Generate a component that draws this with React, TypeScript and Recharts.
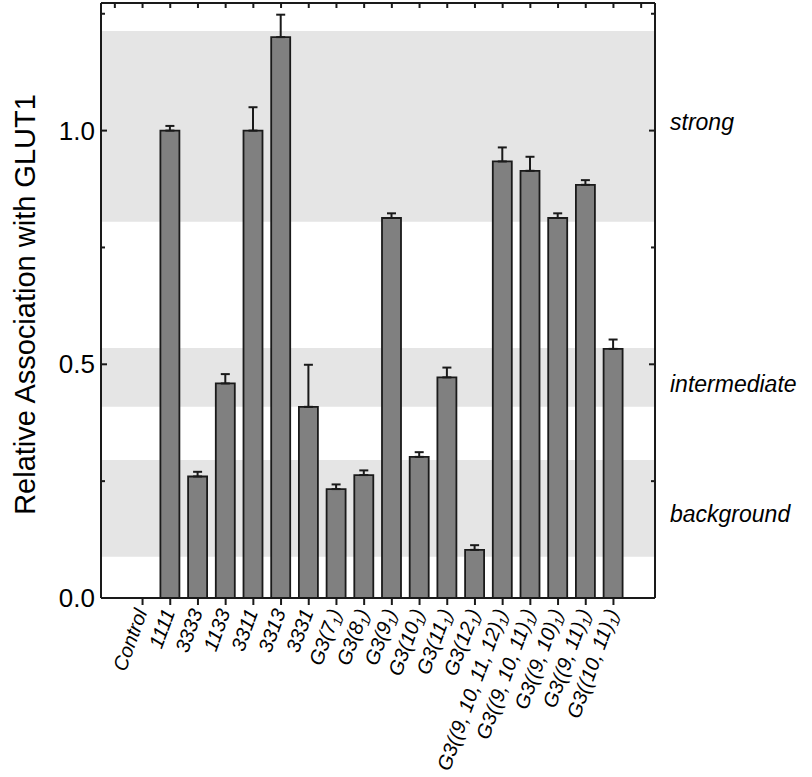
import React from "react";
import { BarChart, Bar, XAxis, YAxis, ErrorBar, ReferenceArea, Label } from "recharts";

const CATEGORIES = [
  "Control", "1111", "3333", "1133", "3311", "3313", "3331",
  "G3(7₁)", "G3(8₁)", "G3(9₁)", "G3(10₁)", "G3(11₁)", "G3(12₁)",
  "G3((9, 10, 11, 12)₁)", "G3((9, 10, 11)₁)", "G3((9, 10)₁)", "G3((9, 11)₁)", "G3((10, 11)₁)",
];
const VALUES = [0, 1.0, 0.26, 0.459, 1.0, 1.2, 0.409, 0.233, 0.263, 0.813, 0.302, 0.472, 0.103, 0.934, 0.914, 0.813, 0.884, 0.533];
const ERRORS = [0, 0.01, 0.01, 0.02, 0.05, 0.048, 0.09, 0.01, 0.01, 0.01, 0.01, 0.021, 0.01, 0.03, 0.03, 0.01, 0.01, 0.02];

const BANDS = [
  { name: "strong", from: 0.805, to: 1.213, shift: -5 },
  { name: "intermediate", from: 0.409, to: 0.535, shift: 6 },
  { name: "background", from: 0.088, to: 0.295, shift: 5 },
];

const Y_TICKS = [0, 0.25, 0.5, 0.75, 1, 1.25];
const Y_MAJOR = [0, 0.5, 1];
const Y_TITLE = "Relative Association with GLUT1";

const W = 812;
const H = 777;
const PLOT_L = 101;
const PLOT_R = 655;
const PLOT_T = 3;
const PLOT_B = 598;
const INK = "#1a1a1a";

// one empty slot either side, like the original
const table = [
  { name: "", value: 0, err: [0, 0], pad: true },
  ...CATEGORIES.map((c, i) => ({ name: c, value: VALUES[i], err: [0, ERRORS[i]], pad: false })),
  { name: "", value: 0, err: [0, 0], pad: true },
];

function splitSub(label: string) {
  const parts = label.split("₁");
  if (parts.length === 1) return <>{label}</>;
  return (
    <>
      {parts[0]}
      <tspan fontSize={13} dy={4}>1</tspan>
      <tspan dy={-4}>{parts[1]}</tspan>
    </>
  );
}

function BottomTick(props: any) {
  const { x, index } = props;
  const row = table[index];
  if (!row || row.pad) return <g />;
  return (
    <g>
      <line x1={x} x2={x} y1={PLOT_B} y2={PLOT_B + 7} stroke={INK} strokeWidth={2} />
      <text
        x={x + 5}
        y={612}
        transform={`rotate(-70, ${x + 5}, 612)`}
        textAnchor="end"
        fontSize={20}
        fontStyle="italic"
        fill="#000"
      >
        {splitSub(row.name)}
      </text>
    </g>
  );
}

function TopTick(props: any) {
  const { x } = props;
  return <line x1={x} x2={x} y1={PLOT_T} y2={PLOT_T + 5} stroke={INK} strokeWidth={2} />;
}

function LeftTick(props: any) {
  const { y, payload } = props;
  const major = Y_MAJOR.includes(payload.value);
  return (
    <g>
      <line x1={PLOT_L} x2={PLOT_L + (major ? 6 : 4)} y1={y} y2={y} stroke={INK} strokeWidth={2} />
      {major && (
        <text x={PLOT_L - 6} y={y} textAnchor="end" dominantBaseline="central" fontSize={26} fill="#000">
          {payload.value.toFixed(1)}
        </text>
      )}
    </g>
  );
}

function RightTick(props: any) {
  const { y, payload } = props;
  const major = Y_MAJOR.includes(payload.value);
  return <line x1={PLOT_R} x2={PLOT_R - (major ? 6 : 4)} y1={y} y2={y} stroke={INK} strokeWidth={2} />;
}

function YTitle() {
  const cy = (PLOT_T + PLOT_B) / 2 + 4;
  return (
    <text transform={`translate(35, ${cy}) rotate(-90)`} textAnchor="middle" fontSize={29} fill="#000">
      {Y_TITLE}
    </text>
  );
}

export default function App() {
  return (
    <div style={{ position: "absolute", left: 0, top: 0, width: W, height: H, background: "#fff", fontFamily: "'Liberation Sans', Arial, sans-serif" }}>
      <BarChart
        width={W}
        height={H}
        data={table}
        margin={{ top: 0, right: 147, bottom: 9, left: 31 }}
        barSize={19}
      >
        <XAxis
          dataKey="name"
          height={170}
          interval={0}
          tickLine={false}
          axisLine={{ stroke: INK, strokeWidth: 2 }}
          tick={BottomTick}
        />
        <XAxis
          xAxisId="top"
          orientation="top"
          dataKey="name"
          height={3}
          interval={0}
          tickLine={false}
          axisLine={{ stroke: INK, strokeWidth: 2 }}
          tick={TopTick}
        />
        <YAxis
          width={70}
          domain={[0, 1.273]}
          ticks={Y_TICKS}
          interval={0}
          allowDataOverflow
          tickLine={false}
          axisLine={{ stroke: INK, strokeWidth: 2 }}
          tick={LeftTick}
        >
          <Label content={YTitle} />
        </YAxis>
        <YAxis
          yAxisId="right"
          orientation="right"
          width={10}
          domain={[0, 1.273]}
          ticks={Y_TICKS}
          interval={0}
          allowDataOverflow
          tickLine={false}
          axisLine={{ stroke: INK, strokeWidth: 2 }}
          tick={RightTick}
        />
        {BANDS.map((b) => (
          <ReferenceArea
            key={b.name}
            y1={b.from}
            y2={b.to}
            fill="#e5e5e5"
            fillOpacity={1}
            stroke="none"
            label={{ value: b.name, position: "right", offset: 15, dy: b.shift, fontSize: 23, fontStyle: "italic", fill: "#000" }}
          />
        ))}
        <Bar dataKey="value" fill="#808080" stroke={INK} strokeWidth={1.8} isAnimationActive={false}>
          <ErrorBar dataKey="err" width={4.5} stroke={INK} strokeWidth={2} direction="y" />
        </Bar>
      </BarChart>
    </div>
  );
}
